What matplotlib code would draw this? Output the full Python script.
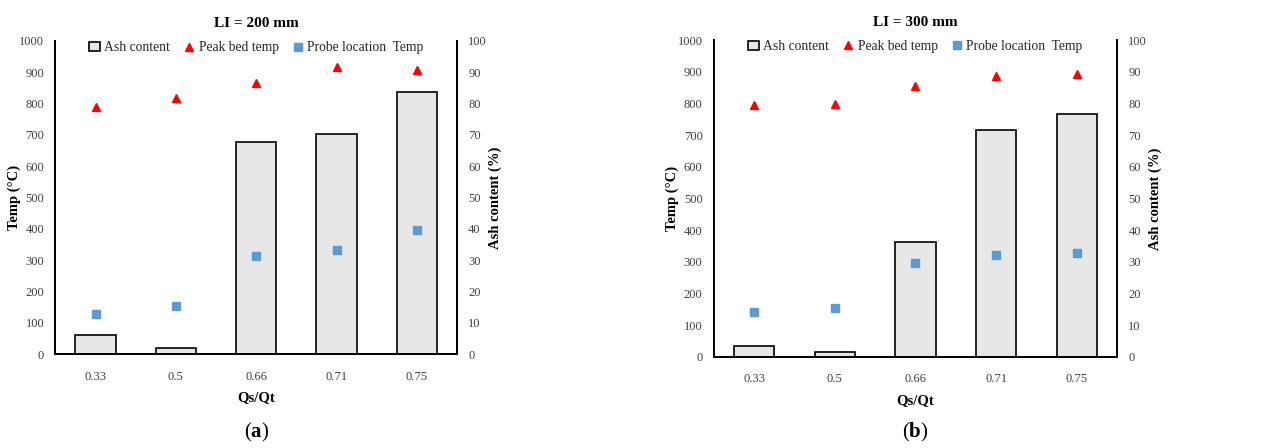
import matplotlib
matplotlib.use('Agg')
import matplotlib.pyplot as plt
import numpy as np

plt.rcParams['font.family'] = ['Liberation Serif', 'DejaVu Serif']
plt.rcParams['mathtext.fontset'] = 'custom'
plt.rcParams['mathtext.rm'] = 'Liberation Serif'
plt.rcParams['mathtext.bf'] = 'Liberation Serif:bold'

categories = ['0.33', '0.5', '0.66', '0.71', '0.75']

# LI = 200 mm
ash_200 = [6.1, 1.9, 67.8, 70.4, 83.6]
peak_200 = [790, 817, 867, 918, 907]
probe_200 = [129, 154, 312, 333, 397]

# LI = 300 mm
ash_300 = [3.4, 1.6, 36.3, 71.6, 76.6]
peak_300 = [794, 798, 854, 887, 892]
probe_300 = [140, 153, 295, 320, 328]

fig = plt.figure(figsize=(12.84, 4.48), dpi=100)

def make_panel(rect, title, letter, ash, peak, probe):
    ax = fig.add_axes(rect)
    ax2 = ax.twinx()
    x = np.arange(len(categories))

    # bars on the right axis, markers on the left axis drawn on top
    bars = ax2.bar(x, ash, width=0.5, color='#e7e7e7', edgecolor='black', linewidth=1.2,
                   label='Ash content')
    tri, = ax.plot(x, peak, linestyle='none', marker='^', color='#ff0000', markersize=6,
                   label='Peak bed temp')
    sq, = ax.plot(x, probe, linestyle='none', marker='s', color='#5b9bd5', markersize=5.5,
                  label='Probe location  Temp')
    ax.set_zorder(ax2.get_zorder() + 1)
    ax.patch.set_visible(False)

    ax.set_xlim(-0.5, 4.5)
    ax.set_ylim(0, 1000)
    ax2.set_ylim(0, 100)
    ax.set_yticks(np.arange(0, 1001, 100))
    ax2.set_yticks(np.arange(0, 101, 10))
    ax.set_xticks(x)
    ax.set_xticklabels(categories)

    for a in (ax, ax2):
        a.spines['top'].set_visible(False)
        for s in ('left', 'right', 'bottom'):
            a.spines[s].set_linewidth(1.3)
            a.spines[s].set_color('black')
        a.tick_params(axis='both', length=0, labelsize=9, labelcolor='#404040')
    ax.tick_params(axis='y', pad=8)
    ax2.tick_params(axis='y', pad=8)
    ax.tick_params(axis='x', pad=12)

    ax.set_ylabel('Temp (°C)', fontsize=10.5, fontweight='bold')
    ax2.set_ylabel('Ash content (%)', fontsize=10.5, fontweight='bold')
    ax.yaxis.set_label_coords(-0.086, 0.5)
    ax2.yaxis.set_label_coords(1.077, 0.5)
    ax.set_xlabel('Qs/Qt', fontsize=10.5, fontweight='bold', labelpad=6)
    ax.set_title(title, fontsize=11, fontweight='bold', pad=10)

    leg = ax.legend(handles=[bars, tri, sq], loc='upper center', ncol=3, frameon=False,
                    fontsize=9.8, bbox_to_anchor=(0.5, 1.025), handlelength=0.8,
                    handletextpad=0.3, columnspacing=1.0, borderaxespad=0.2)
    for t in leg.get_texts():
        t.set_color('#262626')

    cx = rect[0] + rect[2] / 2
    fig.text(cx, 0.035, '($\\mathbf{' + letter + '}$)', ha='center', va='center', fontsize=15)
    return ax

make_panel([0.0431, 0.2098, 0.3129, 0.6987], 'LI = 200 mm', 'a', ash_200, peak_200, probe_200)
make_panel([0.5558, 0.2038, 0.3143, 0.7069], 'LI = 300 mm', 'b', ash_300, peak_300, probe_300)

fig.savefig('out.png', dpi=100)
